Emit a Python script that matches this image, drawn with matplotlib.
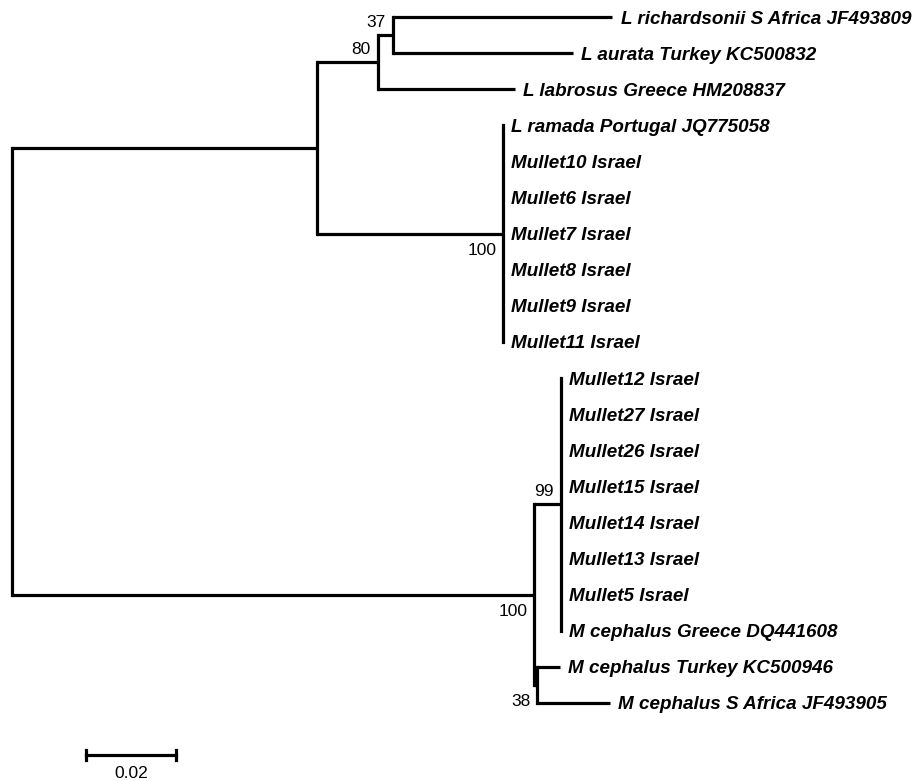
import matplotlib
matplotlib.use('Agg')
import matplotlib.pyplot as plt

# leaves, top to bottom, with parent node and branch length (substitutions/site)
leaf_names = ['L richardsonii S Africa JF493809', 'L aurata Turkey KC500832',
              'L labrosus Greece HM208837', 'L ramada Portugal JQ775058',
              'Mullet10 Israel', 'Mullet6 Israel', 'Mullet7 Israel', 'Mullet8 Israel',
              'Mullet9 Israel', 'Mullet11 Israel', 'Mullet12 Israel', 'Mullet27 Israel',
              'Mullet26 Israel', 'Mullet15 Israel', 'Mullet14 Israel', 'Mullet13 Israel',
              'Mullet5 Israel', 'M cephalus Greece DQ441608', 'M cephalus Turkey KC500946',
              'M cephalus S Africa JF493905']
leaf_parent = ['n37', 'n37', 'n80'] + ['ramada'] * 7 + ['n99'] * 8 + ['n38', 'n38']
leaf_length = [0.0487, 0.0400, 0.0304] + [0.0] * 7 + [0.0] * 8 + [0.0051, 0.0162]

# internal nodes (parents listed before children)
node_names = ['root', 'liza', 'n80', 'n37', 'ramada', 'mugil', 'n99', 'n38']
node_parent = [None, 'root', 'liza', 'n80', 'liza', 'root', 'mugil', 'mugil']
node_length = [0.0, 0.0678, 0.0136, 0.0033, 0.0413, 0.1160, 0.0060, 0.0007]
node_support = [None, None, 80, 37, 100, 100, 99, 38]

scale_len = 0.02

px_per_unit = 4500.0
W, H = 924, 781
row_px = 36.1
top_px = 17

fig = plt.figure(figsize=(W / 100, H / 100), dpi=100)
ax = fig.add_axes([0, 0, 1, 1])
ax.set_xlim(-12 / px_per_unit, (W - 12) / px_per_unit)
ax.set_ylim((H - top_px) / row_px, -top_px / row_px)
ax.axis('off')

# x positions
xpos = {}
for n, p, l in zip(node_names, node_parent, node_length):
    xpos[n] = 0.0 if p is None else xpos[p] + l

# y positions: leaves by row, nodes at midpoint of their children
ypos = {}
kids = {n: [] for n in node_names}
for i, (name, p) in enumerate(zip(leaf_names, leaf_parent)):
    ypos[name] = i
    kids[p].append(name)
for n, p in zip(node_names, node_parent):
    if p is not None:
        kids[p].append(n)
for n in reversed(node_names):
    ys = [ypos[c] for c in kids[n]]
    ypos[n] = (min(ys) + max(ys)) / 2

lw = 2.3
# horizontal branches
for name, p, l in zip(leaf_names, leaf_parent, leaf_length):
    x0 = xpos[p]
    if l > 0:
        ax.plot([x0, x0 + l], [ypos[name]] * 2, color='black', lw=lw, solid_capstyle='butt')
    ax.annotate(name, (x0 + l, ypos[name]), xytext=(6, -1.5), textcoords='offset points',
                ha='left', va='center', fontsize=13.6, fontweight='bold', fontstyle='italic',
                family='Liberation Sans')
for n, p, l in zip(node_names, node_parent, node_length):
    if p is not None:
        ax.plot([xpos[p], xpos[n]], [ypos[n]] * 2, color='black', lw=lw, solid_capstyle='butt')
# vertical connectors
for n in node_names:
    ys = [ypos[c] for c in kids[n]]
    ax.plot([xpos[n]] * 2, [min(ys), max(ys)], color='black', lw=lw, solid_capstyle='projecting')

# bootstrap values
for n, p, s in zip(node_names, node_parent, node_support):
    if s is None:
        continue
    upper = ypos[n] < ypos[p]
    off = (-5.5, 9) if upper else (-4.5, -12)
    ax.annotate(str(s), (xpos[n], ypos[n]), xytext=off, textcoords='offset points',
                ha='right', va='center', fontsize=12.5, family='Liberation Sans')

# scale bar
sx = 74 / px_per_unit
sy = (755 - top_px) / row_px
ax.plot([sx, sx + scale_len], [sy, sy], color='black', lw=lw)
for x in (sx, sx + scale_len):
    ax.plot([x, x], [sy - 0.14, sy + 0.14], color='black', lw=lw)
ax.annotate('0.02', (sx + scale_len / 2, sy), xytext=(0, -13), textcoords='offset points',
            ha='center', va='center', fontsize=12.5, family='Liberation Sans')

fig.savefig('out.png', dpi=100, facecolor='white')
